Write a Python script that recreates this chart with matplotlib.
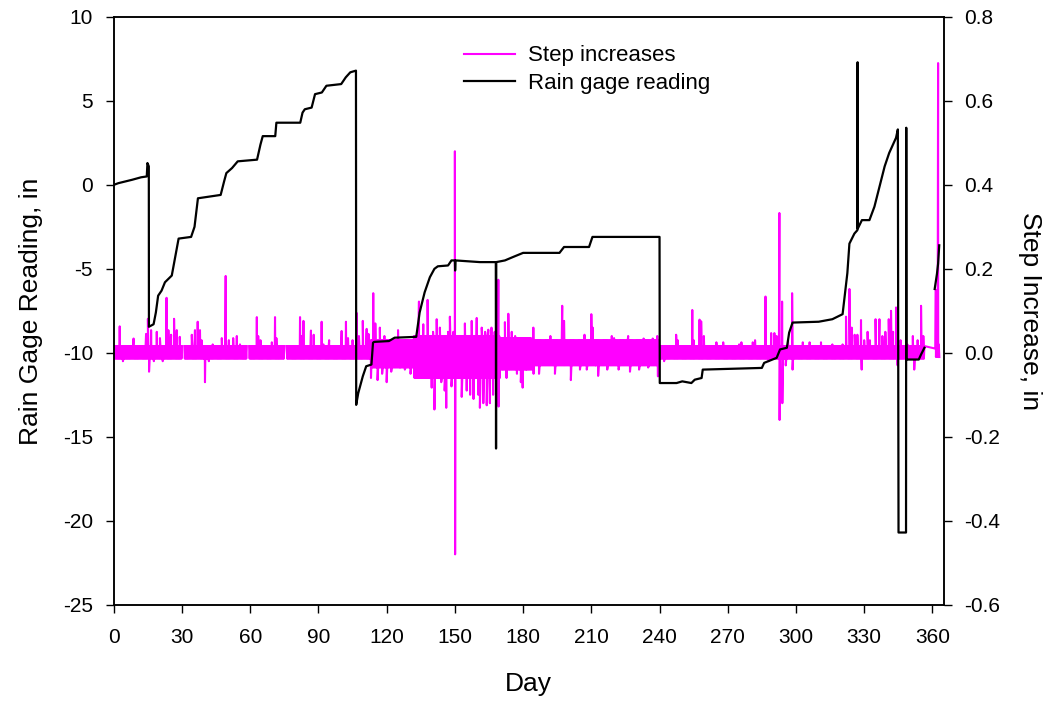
import numpy as np
import matplotlib
matplotlib.use("Agg")
import matplotlib.pyplot as plt

plt.rcParams["font.family"] = ["Liberation Sans", "DejaVu Sans"]
plt.rcParams["axes.unicode_minus"] = False

# rain gage reading (in), left axis
rain_days = [0, 2, 5, 8, 12, 14.5, 14.8, 15.4, 15.45, 17.5, 18.5, 19.5, 21, 22.5, 25.5,
             27, 28.5, 34, 35.5, 37, 47, 48.5, 49.5, 52, 54.5, 63, 64.5, 65.5, 71,
             71.5, 82, 83, 84, 87, 88.5, 91.5, 93.5, 100, 102, 104, 106.5, 106.6,
             107.5, 109.5, 111, 113.3, 114, 114.5, 121, 123.5, 133, 134.5, 136.7,
             139, 141, 142.5, 147, 148.5, 150, 150.1, 150.3, 161, 168, 168.1, 168.2,
             172, 175.5, 180, 196, 198, 209, 210.5, 240, 240.1, 247.5, 250, 254,
             255.5, 258.5, 259, 285, 286, 291.5, 293, 296, 297, 298.5, 310, 316,
             320.5, 322.6, 323.5, 325.7, 327, 327.1, 327.2, 329, 332.3, 334.5, 336,
             339, 341, 344, 344.8, 345.1, 348.4, 348.5, 348.6, 354, 355, 356.5,
             358.8, 361, 362, 362.5, 363]
rain_vals = [0.0, 0.1, 0.2, 0.3, 0.45, 0.5, 1.3, 1.1, -8.45, -8.3, -7.6, -6.6, -6.3, -5.8,
             -5.4, -4.3, -3.2, -3.1, -2.5, -0.8, -0.6, 0.2, 0.7, 1.0, 1.4, 1.5, 2.4,
             2.9, 2.9, 3.7, 3.7, 4.3, 4.5, 4.6, 5.4, 5.5, 5.9, 6.0, 6.4, 6.7, 6.8,
             -13.1, -12.4, -11.4, -10.8, -10.7, -9.4, -9.35, -9.3, -9.1, -9.05, -7.6,
             -6.4, -5.5, -5.0, -4.85, -4.8, -4.5, -4.5, -5.1, -4.5, -4.6, -4.6,
             -15.7, -4.6, -4.5, -4.3, -4.05, -4.05, -3.7, -3.7, -3.1, -3.1, -11.8,
             -11.8, -11.7, -11.8, -11.6, -11.5, -11.0, -10.9, -10.6, -10.3, -9.8,
             -9.7, -8.8, -8.2, -8.15, -8.0, -7.7, -5.25, -3.5, -2.9, -2.7, 7.3, -2.6,
             -2.1, -2.1, -1.3, -0.5, 1.1, 1.9, 2.8, 3.3, -20.7, -20.7, 3.4, -10.4,
             -10.4, -10.1, -9.7, np.nan, -6.2, -5.3, -4.7, -3.6]

# step increases (in), right axis: background band per period
band_start = [0, 113, 132, 170, 184, 240, 361.3]
band_end = [113, 132, 170, 184, 240, 356.6, 363.1]
band_hi = [0.016, 0.03, 0.04, 0.035, 0.03, 0.016, 0.01]
band_lo = [-0.014, -0.035, -0.06, -0.04, -0.03, -0.014, -0.01]

# days with no logged steps
gap_start = [30.0, 58.6, 75.1]
gap_end = [30.8, 59.3, 75.8]

# individual step readings standing out of the band
spike_days = [2.6, 4.0, 8.7, 14.2, 15.0, 15.5, 16.4, 17.6, 18.9, 20.3, 21.5, 23.2, 24.0,
              25.2, 26.5, 27.7, 29.0, 34.3, 35.7, 36.9, 37.9, 38.6, 40.1, 41.8, 43.5,
              47.5, 49.2, 50.6, 52.5, 54.1, 55.5, 62.9, 63.5, 64.5, 69.5, 70.9, 71.5,
              81.9, 82.5, 83.4, 86.7, 87.9, 91.4, 92.2, 94.7, 100.2, 102.1, 103, 105,
              106.8, 107.8, 109.5, 111.2, 112, 113.1, 114.1, 115.0, 116, 117, 118, 119,
              120, 121, 122, 123, 125, 126, 128, 130.5, 132.5, 133.3, 134.2, 135,
              136.1, 137, 138, 139, 139.8, 140.4, 141, 142, 142.7, 143.4, 144, 144.8,
              145.5, 146.2, 147, 147.8, 148.5, 149.3, 150.0, 150.1, 150.8, 151.5,
              152.2, 153, 153.7, 154.4, 155.2, 156, 156.7, 157.4, 158.2, 158.9, 159.6,
              160.3, 161, 161.8, 162.5, 163.3, 164, 164.7, 165.4, 166.1, 166.8, 167.5,
              168.2, 169.1, 169.2, 170, 170.8, 172, 172.7, 173.5, 174.2, 175, 175.8,
              176.5, 177.3, 178, 179, 179.8, 180.5, 181.5, 183, 184.5, 184.6, 187, 189,
              192, 194, 196, 197.2, 197.8, 198, 199, 201, 203, 205, 207, 208, 210,
              210.6, 212, 213, 215, 217, 219, 220, 222, 224, 226.2, 227, 229, 231, 233,
              235, 237, 239, 239.3, 242, 247.3, 248, 254.4, 255, 257.6, 258.3, 259.5,
              265, 268, 275, 276, 281, 282, 286.6, 288, 289.1, 290.5, 291.5, 292.7,
              292.8, 293.9, 294.0, 295.5, 296.5, 298.3, 298.5, 303, 306, 311, 316,
              320.5, 322, 323.5, 324.5, 325.8, 327, 328.6, 328.9, 330, 331.5, 332.5,
              335, 336.7, 338, 339.3, 340.8, 341.8, 342.7, 344, 344.7, 346, 349, 351.4,
              352, 353.5, 355, 356, 361.5, 362, 362.5, 362.8]
spike_vals = [0.063, -0.02, 0.034, 0.045, 0.081, -0.045, 0.054, -0.02, 0.05, 0.035, -0.02,
              0.131, 0.054, 0.043, 0.081, 0.054, 0.038, 0.043, 0.054, 0.074, 0.054, 0.03,
              -0.07, -0.02, 0.02, 0.035, 0.183, 0.03, 0.035, 0.04, 0.02, 0.085, 0.04,
              0.03, 0.025, 0.085, 0.035, 0.085, 0.04, 0.076, 0.053, 0.043, 0.074, 0.02,
              0.03, 0.052, 0.074, 0.035, 0.03, 0.095, 0.04, 0.076, 0.057, 0.045, -0.06,
              0.142, 0.07, -0.065, 0.06, -0.05, 0.04, -0.07, 0.03, -0.045, 0.03, 0.054,
              -0.035, -0.04, -0.05, -0.06, 0.03, 0.122, -0.04, 0.068, -0.05, 0.126,
              -0.06, -0.083, 0.05, -0.135, 0.08, -0.04, 0.06, -0.07, 0.04, -0.09,
              -0.131, 0.05, 0.086, -0.08, 0.05, 0.48, -0.48, 0.03, -0.04, 0.04, -0.105,
              0.03, 0.07, -0.09, 0.04, -0.1, 0.076, -0.11, 0.04, 0.083, -0.1, -0.131,
              0.06, -0.12, 0.05, -0.125, 0.055, -0.12, 0.06, -0.1, 0.05, -0.05, 0.174,
              -0.128, 0.03, -0.04, 0.073, -0.06, 0.093, -0.04, 0.05, -0.04, 0.04, -0.05,
              0.03, -0.07, -0.083, 0.035, -0.04, 0.03, 0.06, -0.05, -0.05, 0.03, 0.04,
              -0.05, 0.03, 0.112, -0.03, 0.076, 0.03, -0.065, 0.03, -0.04, 0.043, -0.04,
              0.092, 0.06, -0.03, -0.055, 0.03, -0.04, 0.04, 0.035, -0.04, 0.03, 0.04,
              -0.045, 0.03, -0.04, 0.034, -0.035, 0.034, 0.04, -0.056, -0.02, 0.043,
              0.03, 0.102, 0.03, 0.079, 0.075, 0.04, 0.025, 0.025, 0.02, 0.025, 0.025,
              0.03, 0.134, -0.02, 0.047, 0.047, 0.04, 0.333, -0.16, 0.122, -0.12, -0.03,
              0.03, 0.142, -0.04, 0.025, 0.025, 0.025, 0.02, 0.02, 0.086, 0.152, 0.06,
              0.043, 0.043, 0.078, -0.04, 0.03, 0.05, 0.03, 0.08, 0.08, 0.04, 0.05,
              0.08, 0.1, 0.05, 0.108, -0.03, 0.03, 0.02, 0.04, -0.04, 0.03, 0.112,
              0.04, 0.15, 0.02, 0.69, 0.02]

# build the step series: band readings alternate between its high and low
t_parts, v_parts = [], []
for s, e, hi, lo in zip(band_start, band_end, band_hi, band_lo):
    t = np.arange(s, e, 0.25)
    t_parts.append(t)
    v_parts.append(np.where(np.arange(t.size) % 2 == 0, hi, lo))
t_parts.append(np.array(spike_days, dtype=float))
v_parts.append(np.array(spike_vals, dtype=float))
step_t = np.concatenate(t_parts)
step_v = np.concatenate(v_parts)
order = np.argsort(step_t, kind="stable")
step_t, step_v = step_t[order], step_v[order]
for gs, ge in zip(gap_start, gap_end):
    step_v[(step_t > gs) & (step_t < ge)] = np.nan

fig = plt.figure(figsize=(10.44, 7.04), dpi=100)
ax = fig.add_axes([0.109, 0.141, 0.795, 0.835])
ax2 = ax.twinx()

l_step, = ax2.plot(step_t, step_v, color="#FF00FF", lw=1.5, label="Step increases")
l_rain, = ax.plot(rain_days, rain_vals, color="black", lw=1.6, label="Rain gage reading")

# keep the gage trace above the step trace
ax.set_zorder(ax2.get_zorder() + 1)
ax.patch.set_visible(False)

ax.set_xlim(0, 365)
ax.set_ylim(-25, 10)
ax2.set_ylim(-0.6, 0.8)
ax.set_xticks(range(0, 361, 30))
ax.set_yticks(range(-25, 11, 5))
ax2.set_yticks(np.arange(-0.6, 0.81, 0.2))
ax2.set_yticklabels([f"{v:.1f}" for v in np.arange(-0.6, 0.81, 0.2)])

for a in (ax, ax2):
    for sp in a.spines.values():
        sp.set_linewidth(1.1)
    a.tick_params(direction="out", length=6, width=1.0, labelsize=15, pad=9)
ax.tick_params(axis="x", pad=11)

ax.set_xlabel("Day", fontsize=19, labelpad=18)
ax.set_ylabel("Rain Gage Reading, in", fontsize=19, labelpad=14)
ax2.set_ylabel("Step Increase, in", fontsize=19, rotation=270, labelpad=30)

ax.legend(handles=[l_step, l_rain], loc="center", bbox_to_anchor=(0.57, 0.91),
          frameon=False, fontsize=16, handlelength=2.3, labelspacing=0.3,
          handletextpad=0.6)

plt.savefig("out.png", dpi=100)
